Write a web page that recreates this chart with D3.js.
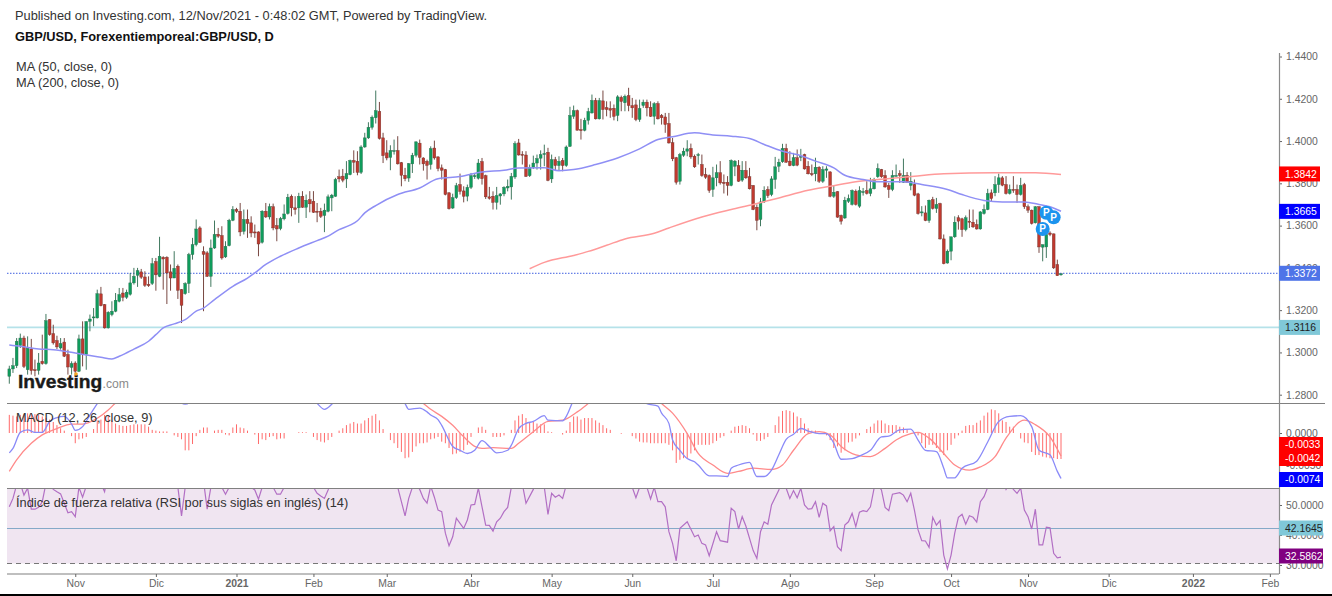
<!DOCTYPE html>
<html>
<head>
<meta charset="utf-8">
<title>GBP/USD</title>
<script src="https://cdn.jsdelivr.net/npm/d3@7"></script>
<style>
  html, body { margin: 0; padding: 0; background: #fff; overflow: hidden; }
  svg { display: block; }
  text { font-family: "Liberation Sans", Arial, sans-serif; }
  .tick text { fill: #666; font-size: 10.4px; }
  .tick line { stroke: #666; }
</style>
</head>
<body>
<script>
// prices are in pips (1.2922 = 12922), macd values too
const opens = [12887,12922,12937,13032,13068,12918,13016,12918,12915,12958,12947,13155,13089,13056,13021,13049,12990,12929,12950,12911,13064,12990,13147,13166,13163,13277,13226,13116,13179,13195,13242,13281,13261,13275,13329,13365,13381,13357,13322,13326,13430,13360,13450,13450,13381,13352,13408,13297,13278,13326,13463,13510,13589,13477,13471,13360,13494,13559,13553,13452,13505,13625,13676,13668,13573,13629,13613,13570,13570,13521,13668,13641,13689,13600,13586,13632,13657,13739,13684,13684,13739,13687,13723,13715,13668,13668,13648,13668,13731,13739,13831,13834,13821,13841,13908,13904,13852,13972,14015,14065,14110,14140,14015,13944,13923,13953,13955,13898,13838,13825,13892,13933,13990,13920,13904,13889,13967,13925,13873,13865,13755,13683,13732,13794,13764,13739,13781,13832,13824,13903,13836,13736,13739,13710,13740,13750,13778,13783,13830,13991,13937,13934,13836,13876,13896,13919,13938,13947,13821,13912,13884,13908,13884,13975,14117,14144,14054,14051,14098,14133,14192,14105,14190,14158,14154,14155,14121,14207,14181,14215,14168,14171,14102,14168,14184,14160,14117,14177,14121,14114,14083,13992,13921,13810,13933,13952,13965,13928,13933,13889,13842,13837,13771,13826,13850,13805,13805,13790,13881,13884,13815,13861,13831,13790,13687,13629,13712,13771,13747,13818,13881,13902,13965,13905,13884,13921,13925,13936,13881,13846,13845,13876,13810,13862,13854,13739,13760,13648,13636,13715,13700,13763,13692,13760,13766,13752,13774,13831,13865,13837,13790,13771,13835,13846,13805,13837,13790,13794,13750,13660,13660,13624,13723,13681,13704,13537,13423,13479,13547,13637,13632,13581,13621,13616,13605,13584,13657,13676,13755,13755,13794,13826,13794,13752,13771,13771,13747,13794,13689,13673,13613,13689,13498,13499,13565,13561,13416,13367]
const closes = [12922,12937,13053,13068,12934,13021,12914,12915,12950,12947,13150,13084,13045,13026,13042,12982,12931,12947,12911,13064,12990,13146,13158,13168,13278,13221,13116,13190,13195,13247,13274,13261,13285,13329,13360,13387,13356,13318,13316,13420,13367,13455,13442,13376,13352,13398,13294,13223,13326,13463,13510,13584,13521,13464,13360,13494,13558,13550,13447,13502,13625,13676,13668,13570,13629,13610,13565,13565,13513,13668,13641,13689,13589,13584,13633,13655,13734,13684,13676,13739,13687,13720,13703,13663,13663,13644,13673,13736,13744,13818,13821,13815,13846,13908,13900,13852,13972,14015,14065,14113,14144,14012,13931,13920,13955,13955,13892,13838,13822,13893,13933,13996,13923,13892,13885,13964,13920,13870,13862,13747,13680,13732,13789,13762,13739,13781,13836,13836,13896,13822,13736,13729,13710,13742,13750,13781,13786,13833,13988,13934,13933,13833,13876,13896,13917,13936,13941,13814,13912,13884,13904,13884,13972,14121,14144,14051,14051,14098,14140,14192,14105,14192,14149,14149,14146,14117,14209,14187,14212,14168,14157,14102,14154,14184,14157,14117,14177,14105,14110,14078,13991,13916,13805,13936,13952,13963,13925,13878,13936,13837,13829,13766,13826,13850,13802,13799,13790,13908,13905,13810,13862,13826,13774,13676,13625,13712,13767,13742,13821,13878,13900,13965,13900,13884,13921,13886,13928,13868,13845,13845,13876,13810,13865,13868,13739,13758,13640,13621,13720,13728,13766,13700,13766,13761,13752,13774,13818,13870,13831,13783,13771,13837,13837,13837,13837,13805,13810,13744,13657,13665,13624,13720,13681,13700,13537,13420,13479,13547,13616,13621,13581,13637,13616,13594,13584,13665,13676,13752,13728,13794,13826,13791,13752,13771,13767,13747,13790,13689,13673,13610,13689,13499,13510,13558,13558,13400,13363,13372]
const highs = [12937,12974,13068,13089,13079,13076,13064,12966,12997,13084,13182,13158,13131,13079,13068,13068,13013,12958,12958,13084,13147,13147,13179,13210,13297,13310,13229,13195,13242,13281,13305,13305,13297,13376,13400,13400,13395,13384,13360,13447,13447,13547,13455,13455,13416,13479,13416,13300,13332,13471,13542,13629,13597,13502,13479,13534,13624,13589,13597,13526,13632,13692,13684,13707,13676,13676,13644,13605,13573,13673,13707,13704,13704,13636,13641,13700,13750,13747,13739,13755,13763,13747,13763,13763,13707,13684,13704,13747,13750,13826,13865,13868,13905,13912,13956,13952,13980,14039,14089,14121,14239,14185,14039,14004,13980,14007,14023,13901,13873,13896,13944,13999,14007,13923,13912,13975,14002,13928,13889,13868,13758,13751,13802,13846,13786,13794,13849,13849,13915,13920,13841,13783,13762,13783,13754,13786,13818,13849,13999,14010,13952,13952,13889,13931,13936,13956,13983,13968,13936,13925,13928,13920,13979,14162,14168,14149,14105,14110,14157,14220,14204,14204,14239,14188,14188,14173,14217,14215,14220,14252,14204,14196,14196,14196,14196,14188,14184,14188,14128,14133,14133,14015,13925,13944,13968,14004,13988,13936,13944,13936,13873,13842,13878,13889,13905,13842,13834,13913,13910,13910,13905,13905,13873,13791,13700,13731,13786,13786,13834,13925,13916,13987,13987,13952,13944,13960,13963,13940,13905,13889,13921,13881,13881,13881,13857,13790,13763,13652,13736,13747,13771,13771,13786,13778,13810,13826,13826,13894,13868,13862,13802,13862,13889,13862,13917,13853,13853,13818,13755,13692,13695,13723,13736,13731,13708,13558,13487,13547,13644,13649,13637,13648,13676,13676,13629,13668,13700,13774,13771,13834,13846,13834,13834,13794,13834,13794,13826,13802,13700,13676,13692,13692,13510,13565,13573,13562,13439,13373]
const lows = [12852,12903,12926,13021,12926,12895,12895,12887,12895,12942,12942,13079,13037,13016,13013,12978,12895,12895,12895,12907,12934,12918,13100,13124,13161,13218,13113,13113,13171,13190,13237,13242,13253,13269,13321,13310,13348,13310,13310,13319,13292,13356,13297,13229,13292,13352,13253,13139,13273,13281,13439,13502,13518,13195,13357,13310,13490,13542,13439,13447,13502,13621,13660,13550,13558,13542,13545,13542,13455,13515,13636,13629,13578,13526,13578,13625,13652,13644,13652,13613,13684,13636,13663,13660,13616,13636,13569,13663,13668,13736,13805,13805,13778,13838,13849,13838,13844,13968,14010,14054,14083,14007,13896,13909,13862,13936,13889,13786,13810,13807,13849,13923,13889,13860,13818,13865,13912,13857,13818,13743,13676,13679,13726,13747,13710,13715,13773,13821,13818,13794,13726,13723,13676,13676,13699,13739,13762,13723,13821,13931,13889,13830,13830,13868,13865,13865,13881,13810,13802,13862,13862,13857,13878,13972,14105,14051,14007,14046,14078,14130,14102,14102,14102,14117,14110,14098,14094,14141,14141,14141,14110,14094,14091,14157,14117,14114,14078,14102,14078,14039,13988,13905,13794,13794,13925,13928,13916,13873,13889,13831,13821,13755,13736,13786,13794,13752,13742,13786,13834,13807,13807,13821,13771,13673,13578,13597,13707,13731,13739,13774,13853,13897,13897,13881,13881,13881,13905,13865,13842,13834,13810,13802,13802,13826,13734,13731,13637,13605,13632,13707,13695,13695,13684,13742,13747,13739,13771,13826,13826,13779,13731,13763,13834,13802,13802,13802,13767,13739,13652,13644,13621,13613,13676,13660,13534,13417,13420,13436,13542,13581,13547,13573,13589,13589,13581,13581,13652,13673,13715,13739,13755,13786,13747,13747,13755,13708,13742,13679,13660,13605,13610,13471,13431,13447,13550,13395,13363,13363]

const ma50Bars = [0,3,8,12,18,22,25,28,30,34,38,40,42,45,48,51,53,56,61,65,67,70,74,79,84,87,90,93,95,97,100,106,112,117,123,129,135,139,146,150,154,160,166,172,177,181,187,192,197,202,206,211,215,220,225,228,233,237,244,249,256,260,266,271,277,281,284,287]
const ma50 = [13035,13029,13016,13013,12997,12985,12977,12969,12982,13016,13053,13084,13116,13135,13155,13195,13210,13250,13313,13352,13376,13416,13455,13494,13529,13550,13581,13602,13623,13660,13695,13747,13778,13822,13832,13854,13862,13873,13874,13860,13865,13889,13920,13963,14007,14020,14039,14029,14023,14012,13984,13952,13936,13905,13873,13838,13818,13807,13807,13794,13771,13747,13719,13712,13712,13700,13689,13668]
const ma200Bars = [142,146,154,158,163,168,176,180,189,197,203,210,218,224,231,239,247,255,269,280,287]
const ma200 = [13396,13426,13459,13478,13507,13537,13564,13589,13641,13676,13700,13731,13767,13786,13808,13821,13834,13845,13850,13850,13842]

const histValues = [23,22,21,23,24,25,25,24,23,21,19,17,14,10,6,3,0,-4,-13,-8,-7,-5,0,5,16,17,23,22,16,12,10,9,9,10,11,11,11,11,8,4,3,2,2,2,0,-3,-5,-8,-22,-22,-14,-4,4,7,7,0,3,4,4,-2,-3,7,11,7,6,3,0,-2,-14,-8,-9,-5,-4,-8,-7,-7,0,0,0,1,1,1,0,-5,-9,-11,-12,-9,-5,0,3,6,10,12,14,12,12,16,19,22,24,16,5,0,-9,-13,-19,-24,-32,-31,-24,-17,-13,-13,-12,-8,-7,-5,-11,-13,-19,-27,-26,-24,-22,-15,-5,0,7,8,4,0,-5,-5,-5,-3,0,4,16,22,24,19,13,14,12,11,11,2,1,0,0,-2,3,14,21,21,17,19,19,19,16,13,10,6,4,0,0,-1,0,0,-4,-7,-11,-12,-12,-13,-13,-13,-13,-13,-15,-22,-38,-34,-32,-32,-26,-22,-15,-15,-15,-15,-13,-10,-6,-4,0,3,8,9,10,9,6,-2,-10,-10,-8,-5,0,10,21,28,29,28,26,21,19,12,6,3,3,0,0,-3,-9,-19,-17,-25,-22,-12,-11,-7,-3,0,5,8,12,16,16,12,10,10,10,8,7,5,0,0,-3,-13,-19,-15,-15,-19,-24,-28,-22,-15,-7,-3,3,9,10,10,13,16,22,26,30,29,25,16,14,8,8,0,-7,-12,-13,-24,-28,-28,-30,-31,-32,-32,-33,-33]

const macdBars = [0,1,3,5,7,9,11,13,15,17,18,20,22,24,30,38,44,48,52,60,70,80,84,86,88,90,100,105,108,109,112,114,115,117,118,121,123,125,127,129,131,133,136,137,139,141,143,146,147,151,152,154,158,165,171,174,177,178,180,181,183,185,187,188,191,193,196,197,199,202,204,206,208,210,212,214,216,218,221,223,225,227,230,232,235,238,240,243,246,248,250,253,255,256,258,260,264,267,270,273,276,279,281,284,286,287]
const macdValues = [-31,-24,1,5,1,1,18,24,26,14,4,10,28,46,85,75,60,45,60,90,90,65,46,37,45,60,90,75,46,37,39,33,28,21,12,-21,-27,-32,-27,-12,-21,-31,-27,-19,7,15,18,27,20,19,26,52,85,100,70,46,42,31,15,-11,-27,-40,-45,-50,-67,-67,-68,-55,-50,-46,-68,-68,-58,-34,-10,-2,7,3,-1,-1,-16,-41,-40,-36,-27,-6,-5,5,6,-11,-27,-29,-55,-70,-70,-55,-44,-14,18,26,27,10,-27,-34,-60,-71]
const signalBars = [0,2,6,9,13,17,20,24,27,29,40,60,80,95,105,113,115,118,121,124,127,129,132,137,139,143,147,151,155,158,165,172,178,181,185,188,192,196,199,203,208,211,214,218,221,224,227,231,235,239,242,246,248,251,255,258,262,265,269,272,277,280,284,287]
const signalValues = [-60,-42,-16,-3,7,14,14,23,36,47,80,95,85,75,65,46,37,26,12,-6,-21,-24,-23,-24,-16,2,18,20,33,46,80,85,46,31,-1,-32,-50,-63,-60,-55,-57,-50,-27,-1,2,-3,-21,-34,-37,-24,-11,-1,1,-8,-32,-50,-58,-53,-37,-8,20,13,-6,-36]

const rsiBars = [0,1,2,3,4,5,6,7,8,9,10,11,12,13,14,15,16,17,18,19,20,21,24,26,27,35,45,46,47,48,50,53,54,55,57,58,59,60,62,65,66,67,68,69,71,72,73,74,75,78,83,84,85,86,87,88,95,105,106,107,108,109,110,111,112,113,114,115,116,117,118,119,120,121,122,123,124,125,126,127,128,129,130,131,132,133,134,135,136,137,138,140,141,143,144,146,147,148,149,150,151,152,154,165,170,171,172,173,174,175,176,177,178,179,180,181,182,183,185,187,188,189,190,191,193,194,196,197,198,199,200,201,203,204,205,206,207,208,210,211,212,213,214,215,216,217,218,219,220,221,222,223,224,225,226,227,228,229,230,231,232,233,234,235,236,237,238,239,240,241,243,244,245,246,247,248,249,250,251,252,253,254,255,256,257,258,259,260,261,262,263,264,265,266,267,268,270,272,273,274,275,276,277,278,279,280,281,282,283,284,285,286,287]
const rsiValues = [49.4,52.2,56.7,57.2,53.3,55.6,48.6,48.6,49.2,51.1,57.2,57.2,55.2,54.4,53.7,50.6,47.4,47.8,46.1,55.9,52.6,56.3,60,54.4,61,63,62,55.9,46.4,55.9,60,58,48.6,55.9,58,55.9,53.6,55.9,60,59,55.9,55,51.9,55.9,59,55.9,53.6,53.6,55.9,60,55.9,53.9,53,52.2,55,59,65,60,55.9,51.1,46.4,52.2,55.9,56.7,55.2,52.2,50.6,56.3,52.6,48.3,47.8,40.6,36.4,39.4,45.6,43.9,42.2,45,50,50.2,55.6,49.4,43.3,43.2,41.3,44.4,45.6,47.8,49.2,55.9,60,57,50.6,55.2,59,55.9,46.9,53.9,52.6,53.3,52.2,56.7,60,66,55.9,52.4,55.9,57,55.9,52,55.9,51.1,51.1,49.4,41.1,37.2,31.4,42.2,44.4,39.4,40,37.2,36.7,33.1,41.1,38.1,37.6,48.9,47.8,42,46.1,43,34.8,32.2,41.1,44.4,43.6,50,55,60,55.6,52.2,54.8,52.4,55.6,50,48.6,48.8,51.1,45.9,50.6,49.7,41.4,42.8,36.1,34.8,43.3,44.4,47.2,42.8,47.6,48.1,47.8,49.4,55.6,56.7,55,49.2,48.1,53.6,54.1,53.3,51.1,53.9,48.3,41.7,38.1,38,35.9,45.9,43.3,44.8,33.3,28.7,33.3,40.6,45.9,46.9,43.6,46.4,45.9,44.3,51.1,52.8,55.9,60,62,55.2,57,55.2,53.9,55.6,48.3,46.1,42,48.6,36.7,36.7,42.6,42.4,33.9,32.4,32.6]

const priceTicks = [12800,13000,13200,13400,13600,13800,14000,14200,14400]
const macdTicks = [0,-50]
const rsiTicks = [30,40,50]
const timeBars = [18,40,62,83,103,126,148,170,192,213,236,257,278,300,323,344]
const timeLabels = ['Nov','Dic','2021','Feb','Mar','Abr','May','Jun','Jul','Ago','Sep','Oct','Nov','Dic','2022','Feb']
const boldLabels = ['2021','2022']

const pinBars = [282,283,285]
const pinPrices = [13584,13661,13639]

const lastClose = 13372
const supportLevel = 13116
const rsiUpper = 42.1645
const rsiLower = 30

const priceTags = [
  { text: '1.3842', at: 13842, fill: '#ff0000', color: '#fff' },
  { text: '1.3665', at: 13665, fill: '#0000ff', color: '#fff' },
  { text: '1.3372', at: 13372, fill: '#4f74e8', color: '#fff' },
  { text: '1.3116', at: 13116, fill: '#80c8d8', color: '#222' },
]

const fixedValues = {
  left: 7,
  right: 1279,
  tagWidth: 41,
  tagHeight: 15,
  panelTop: 403.5,
  rsiTop: 488.5,
  bottom: 574,
  bodyWidth: 2.8,
}

const x = d3.scaleLinear().domain([0, 287]).range([9.3, 1061])
const yPrice = d3.scaleLinear().domain([12800, 14400]).range([394.7, 56.5])
const yMacd = d3.scaleLinear().domain([-50, 0]).range([465, 433])
const yHist = d3.scaleLinear().domain([-33, 0]).range([459, 433])
const yRsi = d3.scaleLinear().domain([30, 50]).range([565, 505])

const svg = d3.select('body').append('svg')
  .attr('width', 1332)
  .attr('height', 596)

svg.append('rect').attr('width', 1332).attr('height', 596).attr('fill', '#fff')

const addClip = (id, top, bottom) => {
  svg.append('clipPath').attr('id', id).append('rect').attr('x', fixedValues.left)
    .attr('y', top).attr('width', fixedValues.right - fixedValues.left).attr('height', bottom - top)
}
addClip('clip-macd', fixedValues.panelTop, fixedValues.rsiTop)
addClip('clip-rsi', fixedValues.rsiTop, fixedValues.bottom)

const addLine = (container, bars, values, scale, color, width, curve) => {
  const line = d3.line().x((d) => x(d[0])).y((d) => scale(d[1])).curve(curve)

  return container.append('path').datum(bars.map((b, i) => [b, values[i]])).attr('d', line).attr('fill', 'none')
    .attr('stroke', color).attr('stroke-width', width)
}

// rsi background and bands sit under everything else
svg.append('rect').attr('x', fixedValues.left).attr('y', fixedValues.rsiTop)
  .attr('width', fixedValues.right - fixedValues.left).attr('height', yRsi(rsiLower) - 1.5 - fixedValues.rsiTop)
  .attr('fill', '#f0e5f1')

// main price panel
const priceG = svg.append('g')

priceG.append('line').attr('x1', fixedValues.left).attr('x2', fixedValues.right)
  .attr('y1', yPrice(supportLevel) - 0.5).attr('y2', yPrice(supportLevel) - 0.5)
  .attr('stroke', '#b5e2e9').attr('stroke-width', 1.6)
priceG.append('line').attr('x1', fixedValues.left).attr('x2', fixedValues.right)
  .attr('y1', yPrice(lastClose) - 0.5).attr('y2', yPrice(lastClose) - 0.5)
  .attr('stroke', '#3f5fe0').attr('stroke-width', 1).attr('stroke-dasharray', '1.5,1.5')

priceG.selectAll('g.candle').data(closes).enter().append('g')
  .attr('class', 'candle')
  .each(function (close, i) {
    const up = close >= opens[i]
    const wick = up ? '#2c6a4e' : '#6a332c'
    const g = d3.select(this)

    g.append('line').attr('x1', x(i)).attr('x2', x(i)).attr('y1', yPrice(highs[i])).attr('y2', yPrice(lows[i]))
      .attr('stroke', wick).attr('stroke-width', 0.9)
    g.append('rect').attr('x', x(i) - fixedValues.bodyWidth / 2).attr('width', fixedValues.bodyWidth)
      .attr('y', yPrice(Math.max(close, opens[i])))
      .attr('height', Math.max(Math.abs(yPrice(close) - yPrice(opens[i])), 1))
      .attr('fill', up ? '#0f9c5c' : '#c0392f').attr('stroke', wick).attr('stroke-width', 0.4)
  })

addLine(priceG, ma200Bars, ma200, yPrice, '#ff9a9a', 1.5, d3.curveMonotoneX)
addLine(priceG, ma50Bars, ma50, yPrice, '#8f8ff5', 1.5, d3.curveMonotoneX)

const pins = priceG.selectAll('g.pin').data(pinBars).enter().append('g')
  .attr('class', 'pin')
  .attr('transform', (d, i) => `translate(${x(d)},${yPrice(pinPrices[i])})`)
pins.append('circle').attr('r', 7).attr('fill', '#1c94ee')
pins.append('text').text('P').attr('text-anchor', 'middle').attr('y', 3.5)
  .attr('fill', '#fff').attr('font-size', 10).attr('font-weight', 'bold')

// macd panel
const macdG = svg.append('g').attr('clip-path', 'url(#clip-macd)')

macdG.selectAll('line.hist').data(histValues).enter().append('line')
  .attr('class', 'hist')
  .attr('x1', (d, i) => x(i))
  .attr('x2', (d, i) => x(i))
  .attr('y1', yHist(0))
  .attr('y2', (d) => yHist(d))
  .attr('stroke', '#ff6a6a')
  .attr('stroke-width', 1)

addLine(macdG, signalBars, signalValues, yMacd, '#ff8a8a', 1.3, d3.curveMonotoneX)
addLine(macdG, macdBars, macdValues, yMacd, '#8a8af8', 1.3, d3.curveMonotoneX)

// rsi panel
const rsiG = svg.append('g')

rsiG.append('line').attr('x1', fixedValues.left).attr('x2', fixedValues.right)
  .attr('y1', yRsi(rsiUpper)).attr('y2', yRsi(rsiUpper)).attr('stroke', '#85a9c8').attr('stroke-width', 1)
rsiG.append('line').attr('x1', fixedValues.left).attr('x2', fixedValues.right)
  .attr('y1', yRsi(rsiLower) - 1.5).attr('y2', yRsi(rsiLower) - 1.5)
  .attr('stroke', '#777').attr('stroke-width', 1).attr('stroke-dasharray', '5,4')
addLine(rsiG.append('g').attr('clip-path', 'url(#clip-rsi)'), rsiBars, rsiValues, yRsi, '#b26fc4', 1.2, d3.curveLinear)

// panel separators
const addRule = (y, x2, color) => {
  svg.append('line').attr('x1', fixedValues.left).attr('x2', x2).attr('y1', y).attr('y2', y)
    .attr('stroke', color).attr('stroke-width', 1.2)
}
addRule(fixedValues.panelTop, 1325, '#808080')
addRule(fixedValues.rsiTop, fixedValues.right, '#808080')
addRule(fixedValues.bottom, fixedValues.right, '#808080')

// axes
const addRightAxis = (scale, ticks, format) => {
  const g = svg.append('g').attr('transform', `translate(${fixedValues.right},0)`)
    .call(d3.axisRight(scale).tickValues(ticks).tickSize(3).tickPadding(4).tickFormat(format))
  g.select('.domain').remove()
  return g
}
addRightAxis(yPrice, priceTicks, (d) => (d / 1e4).toFixed(4))
addRightAxis(yMacd, macdTicks, (d) => (d / 1e4).toFixed(4))
addRightAxis(yRsi, rsiTicks, (d) => d.toFixed(4))

svg.append('line').attr('x1', fixedValues.right + 0.5).attr('x2', fixedValues.right + 0.5)
  .attr('y1', 53).attr('y2', fixedValues.bottom).attr('stroke', '#8a8a8a').attr('stroke-width', 1.2)

const timeAxis = svg.append('g').attr('transform', `translate(0,${fixedValues.bottom})`)
  .call(d3.axisBottom(x).tickValues(timeBars).tickSize(3).tickPadding(3)
    .tickFormat((d, i) => timeLabels[i]))
timeAxis.select('.domain').remove()
timeAxis.selectAll('text')
  .attr('font-weight', (d, i) => (boldLabels.includes(timeLabels[i]) ? 'bold' : 'normal'))
  .style('font-size', '10.4px')

// last value tags on the right
const addTag = (tag, yPos, w) => {
  svg.append('rect').attr('x', fixedValues.right).attr('y', yPos - fixedValues.tagHeight / 2)
    .attr('width', w).attr('height', fixedValues.tagHeight).attr('fill', tag.fill)
  svg.append('text').text(tag.text).attr('x', fixedValues.right + 6).attr('y', yPos + 3.8)
    .attr('fill', tag.color).attr('font-size', 10.4)
}
priceTags.forEach((tag) => addTag(tag, yPrice(tag.at) - 0.5, fixedValues.tagWidth))
addTag({ text: '-0.0033', fill: '#ff0000', color: '#fff' }, 444.5, 44)
addTag({ text: '-0.0042', fill: '#ff0000', color: '#fff' }, 458.5, 44)
addTag({ text: '-0.0074', fill: '#0000ff', color: '#fff' }, 479.5, 44)
addTag({ text: '42.1645', fill: '#80c8d8', color: '#222' }, 528, 44)
addTag({ text: '32.5862', fill: '#800080', color: '#fff' }, 556, 44)

// header and study captions
const addCaption = (text, xPos, yPos, bold) => {
  svg.append('text').text(text).attr('x', xPos).attr('y', yPos).attr('font-size', 12.8)
    .attr('fill', bold ? '#111' : '#333').attr('font-weight', bold ? 'bold' : 'normal')
}
addCaption('Published on Investing.com, 12/Nov/2021 - 0:48:02 GMT, Powered by TradingView.', 15, 20, false)
addCaption('GBP/USD, Forexentiemporeal:GBP/USD, D', 15, 41, true)
addCaption('MA (50, close, 0)', 16, 71, false)
addCaption('MA (200, close, 0)', 16, 87, false)
addCaption('MACD (12, 26, close, 9)', 16, 422, false)
addCaption('Índice de fuerza relativa (RSI por sus siglas en inglés) (14)', 16, 507, false)

// watermark
svg.append('text').text('Investing').attr('x', 18).attr('y', 388).attr('font-size', 19.2)
  .attr('font-weight', 'bold').attr('fill', '#1a1a1a').attr('stroke', '#1a1a1a').attr('stroke-width', 0.4)
svg.append('text').text('.com').attr('x', 102.5).attr('y', 388).attr('font-size', 12.2).attr('fill', '#8a8a8a')
svg.append('circle').attr('cx', 76).attr('cy', 374).attr('r', 1.8).attr('fill', '#f5a623')

svg.append('rect').attr('y', 594).attr('width', 1332).attr('height', 2).attr('fill', '#000')
</script>
</body>
</html>
